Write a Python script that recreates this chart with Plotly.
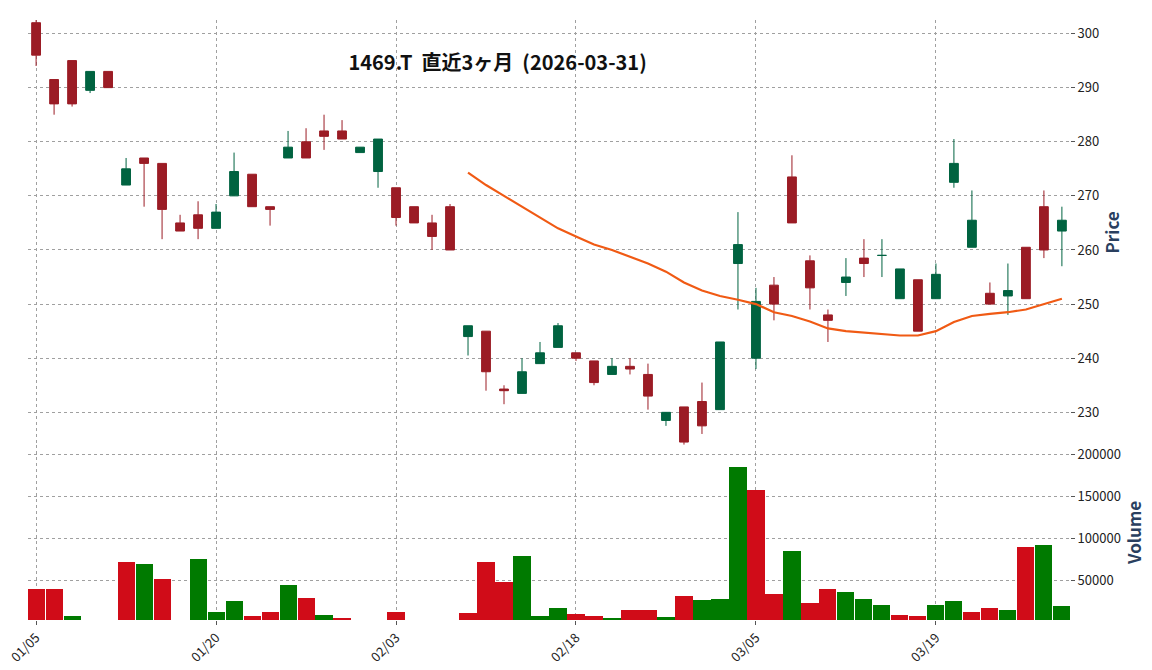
import plotly.graph_objects as go
from plotly.subplots import make_subplots

dates = ["01/05","01/06","01/07","01/08","01/09","01/13","01/14","01/15","01/16","01/19",
         "01/20","01/21","01/22","01/23","01/26","01/27","01/28","01/29","01/30","02/02",
         "02/03","02/04","02/05","02/06","02/09","02/10","02/12","02/13","02/16","02/17",
         "02/18","02/19","02/20","02/24","02/25","02/26","02/27","03/02","03/03","03/04",
         "03/05","03/06","03/09","03/10","03/11","03/12","03/13","03/16","03/17","03/18",
         "03/19","03/23","03/24","03/25","03/26","03/27","03/30","03/31"]
opens  = [302,291.5,295,289.5,293,272,277,276,265,266.5,264,270,274,268,277,280,282,282,278,274.5,
          271.5,268,265,268,244,245,234.3,233.5,239,242,241,239.5,237,238.5,237,228.5,231,232,230.5,257.5,
          240,253.5,273.5,258,248,254,258.5,259,251,254.5,251,272.5,260.5,252,251.5,260.5,268,263.5]
closes = [296,287,287,293,290,275,276,267.5,263.5,264,267,274.5,268,267.5,279,277,281,280.5,279,280.5,
          266,265,262.5,260,246,237.5,234,237.5,241,246,240,235.5,238.5,238,233,230,224.5,227.5,243,261,
          250.5,250,265,253,247,255,257.5,259,256.5,245,255.5,276,265.5,250,252.5,251,260,265.5]
highs  = [303,291.5,295,293,293,277,277,276,266.5,269,268.5,278,274,268,282,282.5,285,284,279,280.5,
          271.5,268,266.5,268.5,246,245,235,240,243,246.5,241,239.5,240,240,239,230,231,235.5,243,267,
          253,255,277.5,259,249,258.5,262,262,256.5,254.5,257.5,280.5,271,254,257.5,260.5,271,268]
lows   = [294,285,286.5,289,290,272,268,262,263.5,262,264,270,268,264.5,277,277,278.5,280.5,278,271.5,
          264.5,265,260,260,240.5,234,231.5,233.5,239,242,239.5,235,237,237,230.5,227.5,224,226,230.5,249,
          238,247,265,249,243,251.5,255,255,251,245,251,271.5,260.5,250,248,251,258.5,257]
ma_start = 24
ma = [274.3,272,270,268,266,264,262.5,261,260,258.8,257.5,256,254,252.5,251.5,250.8,250,248.5,
      247.8,246.8,245.5,245,244.7,244.4,244.2,244.2,245,246.7,247.8,248.2,248.5,249,250,251]
volumes = [40000,41000,8000,4000,4000,72000,70000,52000,0,76000,13000,26000,9000,13000,45000,30000,
           10000,6000,0,0,13000,2000,3000,0,12000,72000,49000,80000,8000,18000,11000,8000,6000,15000,
           16000,7000,32000,27000,29000,185000,158000,35000,85000,24000,40000,37000,29000,21000,10000,
           9000,22000,26000,13000,18000,15000,90000,92000,20000]
vol_up = [0,0,1,1,0,0,1,0,1,1,1,1,0,0,1,0,1,0,1,1,0,0,0,0,0,0,0,1,1,1,0,0,1,0,0,1,0,1,1,1,
          0,0,1,0,0,1,1,1,0,0,1,1,0,0,1,0,1,1]
tick_pos = [0,10,20,30,40,50]

x = list(range(len(dates)))
fig = make_subplots(rows=2, cols=1, shared_xaxes=True, vertical_spacing=0,
                    row_heights=[0.708,0.292], specs=[[{}],[{}]])
fig.add_trace(go.Candlestick(x=x, open=opens, high=highs, low=lows, close=closes,
    increasing=dict(line=dict(color="#006340", width=1), fillcolor="#006340"),
    decreasing=dict(line=dict(color="#9b1c25", width=1), fillcolor="#9b1c25"),
    whiskerwidth=0, showlegend=False), row=1, col=1)
fig.add_trace(go.Scatter(x=x[ma_start:], y=ma, mode="lines",
    line=dict(color="#f05a14", width=2.2), showlegend=False), row=1, col=1)
fig.add_trace(go.Bar(x=x, y=volumes, width=0.95,
    marker=dict(color=["#007a00" if u else "#d00c18" for u in vol_up], line=dict(width=0)),
    showlegend=False), row=2, col=1)

grid = dict(showgrid=True, gridcolor="#a0a0a0", griddash="dot", gridwidth=0.6, zeroline=False)
fig.update_xaxes(range=[-0.45,57.45], rangeslider_visible=False, **grid, automargin=False,
                 tickvals=tick_pos, ticktext=[dates[i] for i in tick_pos], tickangle=-45,
                 ticklabeloverflow="allow", ticks="outside", ticklen=4, tickcolor="#555",
                 showline=False, tickfont=dict(size=13, color="#222"))
fig.update_xaxes(showticklabels=False, ticks="", row=1, col=1)
fig.update_yaxes(side="right", **grid, automargin=False, tickfont=dict(size=13, color="#222"),
                 ticks="outside", ticklen=4, tickcolor="#555")
fig.update_yaxes(range=[224,302.5], dtick=10, title=dict(text="<b>Price</b>", font=dict(size=17), standoff=8), row=1, col=1)
fig.update_yaxes(range=[3500,211000], tickvals=[50000,100000,150000,200000], tickformat="d",
                 title=dict(text="<b>Volume</b>", font=dict(size=17), standoff=8), row=2, col=1)
fig.update_layout(width=1152, height=670, margin=dict(l=20, r=90, t=12, b=58),
    plot_bgcolor="white", paper_bgcolor="white", bargap=0,
    font=dict(family="Noto Sans CJK JP, Noto Sans, sans-serif"),
    title=dict(text="<b>1469.T  直近3ヶ月  (2026-03-31)</b>", x=0.425, xanchor="center",
               y=0.918, yanchor="middle", font=dict(size=20, color="#111")))
fig.write_html("out.html")
